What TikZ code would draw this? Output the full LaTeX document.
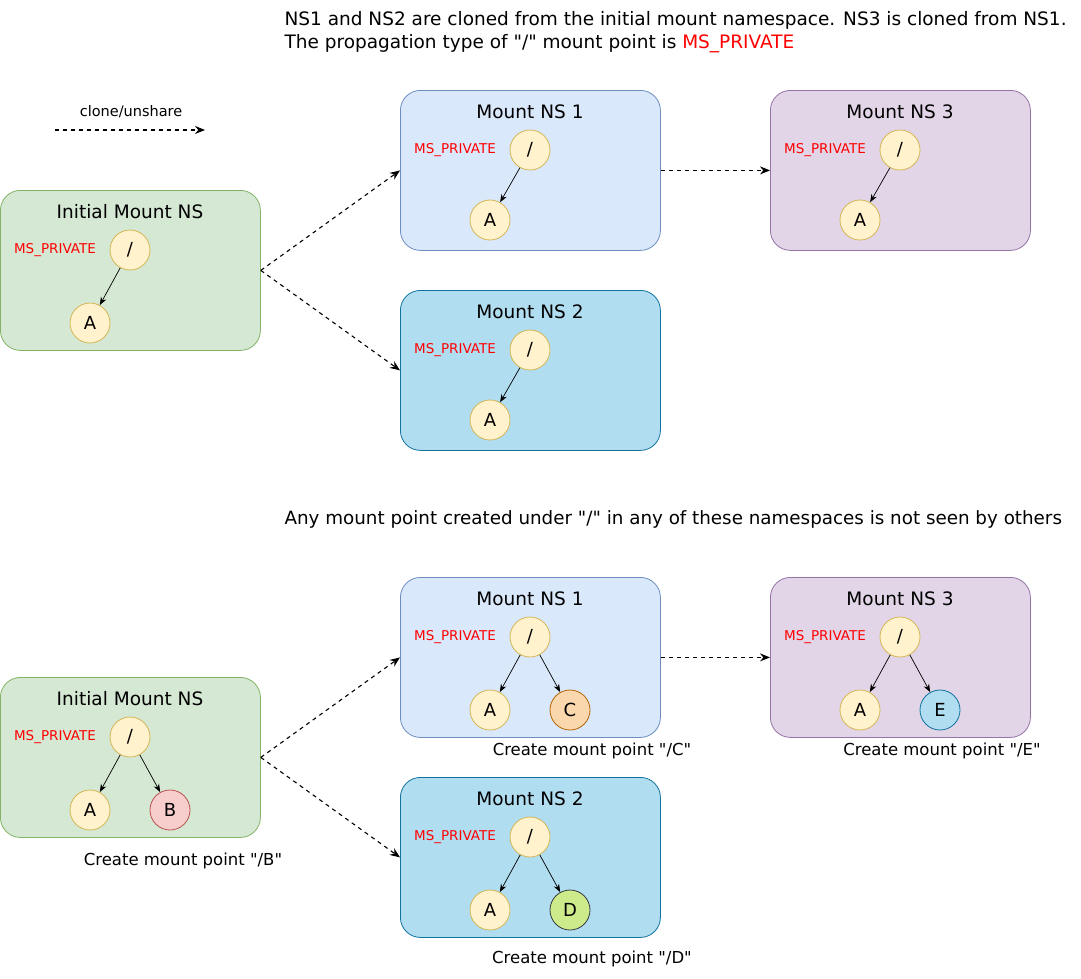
\documentclass[tikz,border=0pt]{standalone}
\usepackage{fontspec}
\setmainfont{DejaVu Sans}[Ligatures=TeXOff]
\usetikzlibrary{arrows.meta}
\definecolor{grfill}{HTML}{D5E8D4}\definecolor{grline}{HTML}{82B366}
\definecolor{blfill}{HTML}{DAE8FC}\definecolor{blline}{HTML}{6C8EBF}
\definecolor{cyfill}{HTML}{B1DDF0}\definecolor{cyline}{HTML}{10739E}
\definecolor{pufill}{HTML}{E1D5E7}\definecolor{puline}{HTML}{9673A6}
\definecolor{yefill}{HTML}{FFF2CC}\definecolor{yeline}{HTML}{D6B656}
\definecolor{orfill}{HTML}{FAD7AC}\definecolor{orline}{HTML}{B46504}
\definecolor{rdfill}{HTML}{F8CECC}\definecolor{rdline}{HTML}{B85450}
\definecolor{lgfill}{HTML}{CDEB8B}\definecolor{lgline}{HTML}{36393D}
\definecolor{msred}{HTML}{FF0000}
\newcommand{\dq}{\symbol{34}}
\begin{document}
\begin{tikzpicture}[x=1pt,y=-1pt,
   nsbox/.style={draw,rounded corners=20pt,minimum width=260pt,minimum height=160pt,anchor=north west,line width=0.8pt},
   nstitle/.style={font=\fontsize{18.5}{22}\selectfont},
   mnt/.style={circle,draw=yeline,fill=yefill,minimum size=40pt,inner sep=0pt,line width=0.8pt,font=\fontsize{18}{20}\selectfont},
   prop/.style={text=msred,font=\fontsize{13.5}{15}\selectfont},
   note/.style={font=\fontsize{16.5}{19}\selectfont},
   head/.style={anchor=west,font=\fontsize{18.5}{22}\selectfont},
   tree/.style={-{Stealth[length=8pt,width=6pt]},line width=0.7pt},
   clone/.style={-{Stealth[length=10pt,width=8pt]},line width=1.1pt,dash pattern=on 4pt off 4pt}]
   \useasboundingbox (0,0) rectangle (1081,978);
   % heading and legend
   \node[head] (head1) at (281,20) {NS1 and NS2 are cloned from the initial mount namespace. NS3 is cloned from NS1.};
   \node[head] (head2) at (281,44) {The propagation type of \dq/\dq{} mount point is \textcolor{msred}{MS\_PRIVATE}};
   \node[font=\fontsize{14.5}{17}\selectfont] (leg) at (131,112) {clone/unshare};
   \coordinate (lega) at (55,130);
   \coordinate (legb) at (205,130);
   \draw[clone] (lega) -- (legb);
   % top: boxes
   \node[nsbox,draw=grline,fill=grfill] (ti) at (0,190) {};
   \node[nsbox,draw=blline,fill=blfill] (ta) at (400,90) {};
   \node[nsbox,draw=puline,fill=pufill] (tc) at (770,90) {};
   \node[nsbox,draw=cyline,fill=cyfill] (tb) at (400,290) {};
   \node[nstitle] at (130,212) {Initial Mount NS};
   \node[nstitle] at (530,112) {Mount NS 1};
   \node[nstitle] at (900,112) {Mount NS 3};
   \node[nstitle] at (530,312) {Mount NS 2};
   \node[prop] at (55,250) {MS\_PRIVATE};
   \node[prop] at (455,150) {MS\_PRIVATE};
   \node[prop] at (825,150) {MS\_PRIVATE};
   \node[prop] at (455,350) {MS\_PRIVATE};
   \node[mnt] (tir) at (130,250) {/};
   \node[mnt] (tia) at (90,323) {A};
   \node[mnt] (tar) at (530,150) {/};
   \node[mnt] (taa) at (490,220) {A};
   \node[mnt] (tcr) at (900,150) {/};
   \node[mnt] (tca) at (860,220) {A};
   \node[mnt] (tbr) at (530,350) {/};
   \node[mnt] (tba) at (490,420) {A};
   \draw[tree] (tir) -- (tia);
   \draw[tree] (tar) -- (taa);
   \draw[tree] (tcr) -- (tca);
   \draw[tree] (tbr) -- (tba);
   \draw[clone] (ti.east) -- (ta.west);
   \draw[clone] (ti.east) -- (tb.west);
   \draw[clone] (ta.east) -- (tc.west);
   % bottom
   \node[head,font=\fontsize{18.3}{22}\selectfont] (head3) at (281,519) {Any mount point created under \dq/\dq{} in any of these namespaces is not seen by others};
   \node[nsbox,draw=grline,fill=grfill] (bi) at (0,677) {};
   \node[nsbox,draw=blline,fill=blfill] (ba) at (400,577) {};
   \node[nsbox,draw=puline,fill=pufill] (bc) at (770,577) {};
   \node[nsbox,draw=cyline,fill=cyfill] (bb) at (400,777) {};
   \node[nstitle] at (130,699) {Initial Mount NS};
   \node[nstitle] at (530,599) {Mount NS 1};
   \node[nstitle] at (900,599) {Mount NS 3};
   \node[nstitle] at (530,799) {Mount NS 2};
   \node[prop] at (55,737) {MS\_PRIVATE};
   \node[prop] at (455,637) {MS\_PRIVATE};
   \node[prop] at (825,637) {MS\_PRIVATE};
   \node[prop] at (455,837) {MS\_PRIVATE};
   \node[mnt] (bir) at (130,737) {/};
   \node[mnt] (bia) at (90,810) {A};
   \node[mnt,draw=rdline,fill=rdfill] (bix) at (170,810) {B};
   \node[mnt] (bar) at (530,637) {/};
   \node[mnt] (baa) at (490,710) {A};
   \node[mnt,draw=orline,fill=orfill] (bax) at (570,710) {C};
   \node[mnt] (bcr) at (900,637) {/};
   \node[mnt] (bca) at (860,710) {A};
   \node[mnt,draw=cyline,fill=cyfill] (bcx) at (940,710) {E};
   \node[mnt] (bbr) at (530,837) {/};
   \node[mnt] (bba) at (490,910) {A};
   \node[mnt,draw=lgline,fill=lgfill] (bbx) at (570,910) {D};
   \foreach \t in {bi,ba,bc,bb}{
      \draw[tree] (\t r) -- (\t a);
      \draw[tree] (\t r) -- (\t x);
   }
   \draw[clone] (bi.east) -- (ba.west);
   \draw[clone] (bi.east) -- (bb.west);
   \draw[clone] (ba.east) -- (bc.west);
   \node[note] (nb) at (183,861) {Create mount point \dq/B\dq};
   \node[note] (nc) at (592,751) {Create mount point \dq/C\dq};
   \node[note] (ne) at (942,751) {Create mount point \dq/E\dq};
   \node[note] (nd) at (592,959) {Create mount point \dq/D\dq};
\end{tikzpicture}
\end{document}
